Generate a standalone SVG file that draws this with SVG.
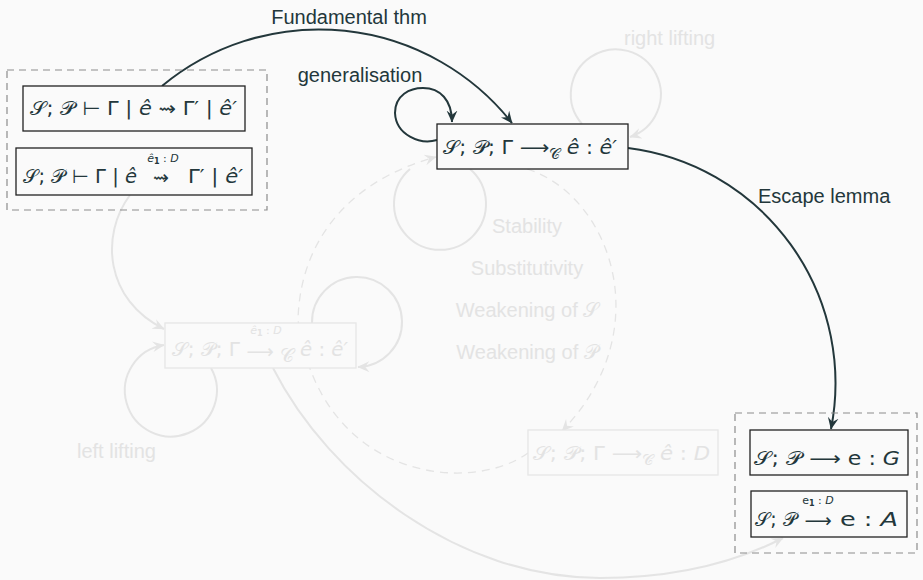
<svg xmlns="http://www.w3.org/2000/svg" width="923" height="580" viewBox="0 0 923 580">
<style>
.lbl{font-family:"Liberation Sans",Arial,sans-serif;font-size:20px;fill:#23373b}
.flbl{font-family:"Liberation Sans",Arial,sans-serif;font-size:20px;fill:#e3e3e3}
.m{font-family:"DejaVu Sans","Liberation Sans",sans-serif;font-size:19px;fill:#23373b}
.fm{font-family:"DejaVu Sans","Liberation Sans",sans-serif;font-size:19px;fill:#e3e3e3}
.sm{font-size:11px}
.box{fill:#fafafa;stroke:#222;stroke-width:1.3}
.fbox{fill:#fafafa;stroke:#e6e6e6;stroke-width:1.3}
.grp{fill:none;stroke:#8c8c8c;stroke-width:1.2;stroke-dasharray:7 5}
.dk{fill:none;stroke:#23373b;stroke-width:2}
.ft{fill:none;stroke:#e4e4e4;stroke-width:2}
.fd{fill:none;stroke:#e4e4e4;stroke-width:1.3;stroke-dasharray:8 6}
</style>
<defs>
<marker id="ad" viewBox="0 0 10 10" refX="9.5" refY="5" markerWidth="12" markerHeight="12" markerUnits="userSpaceOnUse" orient="auto"><path d="M0,0.5 L10,5 L0,9.5 L3.5,5 Z" fill="#23373b"/></marker>
<marker id="af" viewBox="0 0 10 10" refX="9.5" refY="5" markerWidth="12" markerHeight="12" markerUnits="userSpaceOnUse" orient="auto"><path d="M0,0.5 L10,5 L0,9.5 L3.5,5 Z" fill="#e4e4e4"/></marker>
</defs>
<rect x="0" y="0" width="923" height="580" fill="#fafafa"/>

<g id="connectors">
<path class="ft" d="M582,124 A45,45 0 1 1 630,137" marker-end="url(#af)"/>
<path class="ft" d="M470,169 A46,46 0 1 1 410,169"/>
<path class="ft" d="M312,323 A45,45 0 1 1 358,367" marker-end="url(#af)"/>
<path class="ft" d="M211,368 A46,46 0 1 1 164,345" marker-end="url(#af)"/>
<path class="ft" d="M130,195 C100,235 105,300 164,329" marker-end="url(#af)"/>
<path class="ft" d="M273,368 C330,480 460,578 600,578 C680,578 740,560 783,538" marker-end="url(#af)"/>
<path class="fd" d="M528,453 C470,495 320,480 298,320 C300,240 350,180 436,157" marker-end="url(#af)"/>
<path class="fd" d="M527,169 C610,195 660,330 562,431" marker-end="url(#af)"/>
<path class="dk" d="M162,86 A246,246 0 0 1 512,123" marker-end="url(#ad)"/>
<path class="dk" d="M437,140 C420,145 396,135 395,113 C395,95 410,88 423,88 C440,88 452,100 452,122" marker-end="url(#ad)"/>
<path class="dk" d="M628,148 A237,237 0 0 1 831,429" marker-end="url(#ad)"/>
</g>

<g id="edge-labels">
<text class="lbl" x="349" y="24" text-anchor="middle">Fundamental thm</text>
<text class="lbl" x="360" y="82" text-anchor="middle">generalisation</text>
<text class="lbl" x="758" y="203">Escape lemma</text>
<text class="flbl" x="624" y="45">right lifting</text>
<text class="flbl" x="77" y="458">left lifting</text>
<text class="flbl" x="527" y="233" text-anchor="middle">Stability</text>
<text class="flbl" x="527" y="275" text-anchor="middle">Substitutivity</text>
<text class="flbl" x="527" y="317" text-anchor="middle">Weakening of 𝒮</text>
<text class="flbl" x="527" y="359" text-anchor="middle">Weakening of 𝒫</text>
</g>

<g id="group-left">
<rect class="grp" x="7" y="70" width="260" height="140"/>
</g>
<g id="node-reduction">
<rect class="box" x="23" y="86" width="222" height="45"/>
<text class="m" x="30" y="115" textLength="207" lengthAdjust="spacingAndGlyphs">𝒮; 𝒫 ⊢ Γ | <tspan font-style="italic">ê</tspan> ⇝ Γ′ | <tspan font-style="italic">ê′</tspan></text>
</g>
<g id="node-reduction-labelled">
<rect class="box" x="16" y="148" width="236" height="47"/>
<text class="m" x="23" y="183" textLength="114" lengthAdjust="spacingAndGlyphs">𝒮; 𝒫 ⊢ Γ | <tspan font-style="italic">ê</tspan></text>
<text class="m" x="161" y="184" text-anchor="middle">⇝</text>
<text class="m sm" x="163" y="162" text-anchor="middle"><tspan font-style="italic">ê</tspan><tspan font-weight="bold" font-size="8" dy="2">1</tspan><tspan dy="-2"> : </tspan><tspan font-style="italic">D</tspan></text>
<text class="m" x="188" y="183" textLength="55" lengthAdjust="spacingAndGlyphs">Γ′ | <tspan font-style="italic">ê′</tspan></text>
</g>

<g id="node-center">
<rect class="box" x="437" y="124" width="191" height="45"/>
<text class="m" x="443" y="154" textLength="174" lengthAdjust="spacingAndGlyphs">𝒮; 𝒫; Γ ⟶<tspan font-size="14" dy="5">𝒞</tspan><tspan dy="-5"> </tspan><tspan font-style="italic">ê</tspan> : <tspan font-style="italic">ê′</tspan></text>
</g>

<g id="node-left-faint">
<rect class="fbox" x="165" y="323" width="191" height="45"/>
<text class="fm" x="172" y="356" textLength="68" lengthAdjust="spacingAndGlyphs">𝒮; 𝒫; Γ</text>
<text class="fm" x="260" y="358" text-anchor="middle">⟶</text>
<text class="fm sm" x="266" y="334" text-anchor="middle"><tspan font-style="italic">ê</tspan><tspan font-weight="bold" font-size="8" dy="2">1</tspan><tspan dy="-2"> : </tspan><tspan font-style="italic">D</tspan></text>
<text class="fm" x="280" y="362" font-size="13">𝒞</text>
<text class="fm" x="300" y="356" textLength="48" lengthAdjust="spacingAndGlyphs"><tspan font-style="italic">ê</tspan> : <tspan font-style="italic">ê′</tspan></text>
</g>

<g id="node-bottom-faint">
<rect class="fbox" x="528" y="430" width="190" height="45"/>
<text class="fm" x="533" y="460" textLength="177" lengthAdjust="spacingAndGlyphs">𝒮; 𝒫; Γ ⟶<tspan font-size="14" dy="5">𝒞</tspan><tspan dy="-5"> </tspan><tspan font-style="italic">ê</tspan> : <tspan font-style="italic">D</tspan></text>
</g>

<g id="group-right">
<rect class="grp" x="735" y="413" width="182" height="140"/>
</g>
<g id="node-value">
<rect class="box" x="750" y="430" width="158" height="45"/>
<text class="m" x="754" y="465" textLength="146" lengthAdjust="spacingAndGlyphs">𝒮; 𝒫 ⟶ e : <tspan font-style="italic">G</tspan></text>
</g>
<g id="node-value-labelled">
<rect class="box" x="751" y="491" width="156" height="46"/>
<text class="m" x="755" y="526" textLength="42" lengthAdjust="spacingAndGlyphs">𝒮; 𝒫</text>
<text class="m" x="818" y="527" text-anchor="middle">⟶</text>
<text class="m sm" x="818" y="504" text-anchor="middle">e<tspan font-weight="bold" font-size="8" dy="2">1</tspan><tspan dy="-2"> : </tspan><tspan font-style="italic">D</tspan></text>
<text class="m" x="840" y="526" textLength="58" lengthAdjust="spacingAndGlyphs">e : <tspan font-style="italic">A</tspan></text>
</g>
</svg>
